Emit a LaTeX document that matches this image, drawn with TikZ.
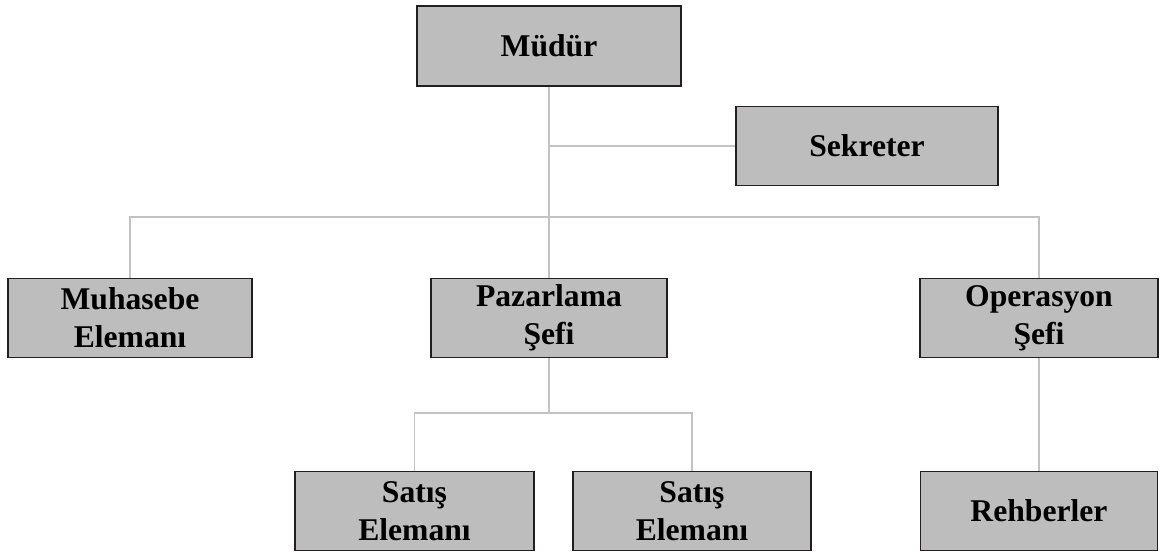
\documentclass[tikz,border=0pt]{standalone}
\usepackage{fontspec}
\setmainfont{Liberation Serif}
\usepackage{tikz}
\usetikzlibrary{positioning}
\definecolor{boxgray}{HTML}{BCBDBC}
\definecolor{linegray}{HTML}{C2C2C2}
\definecolor{edgegray}{HTML}{231F20}
\tikzset{
  unit/.style = {rectangle, draw=edgegray, fill=boxgray, line width=1.1pt,
    align=center, inner sep=0pt, minimum height=1.97cm,
    font=\fontsize{22.5}{27}\selectfont\bfseries},% birim kutusu
  link/.style = {draw=linegray, line width=1pt}% birimler arasi cizgi
}

\begin{document}
\begin{tikzpicture}[x=0.025cm, y=-0.025cm]
\useasboundingbox (0,0) rectangle (1160,552);
% ust kademe
\node [unit, minimum width=6.6cm, minimum height=2cm] (mudur) at (549,46) {Müdür};
\node [unit, minimum width=6.55cm] (sekreter) at (867,146) {Sekreter};
% birimler
\node [unit, minimum width=6.1cm] (muhasebe) at (130,318) {Muhasebe\\Elemanı};
\node [unit, minimum width=5.9cm] (pazarlama) at (549,318) {Pazarlama\\Şefi};
\node [unit, minimum width=5.95cm] (operasyon) at (1039,318) {Operasyon\\Şefi};
% alt kademe
\node [unit, minimum width=5.98cm] (satis1) at (414.5,511) {Satış\\Elemanı};
\node [unit, minimum width=5.95cm] (satis2) at (692,511) {Satış\\Elemanı};
\node [unit, minimum width=5.93cm] (rehber) at (1039,511) {Rehberler};
% baglantilar
\coordinate (hub) at (549,217);
\coordinate (psplit) at (549,413);
\draw [link] (mudur.south) -- (hub);
\draw [link] (sekreter.west) -- (sekreter.west -| mudur.south);
\draw [link] (muhasebe.north) |- (hub) -| (operasyon.north);
\draw [link] (hub) -- (pazarlama.north);
\draw [link] (pazarlama.south) -- (psplit);
\draw [link] (satis1.north) |- (psplit) -| (satis2.north);
\draw [link] (operasyon.south) -- (rehber.north);
\end{tikzpicture}
\end{document}
